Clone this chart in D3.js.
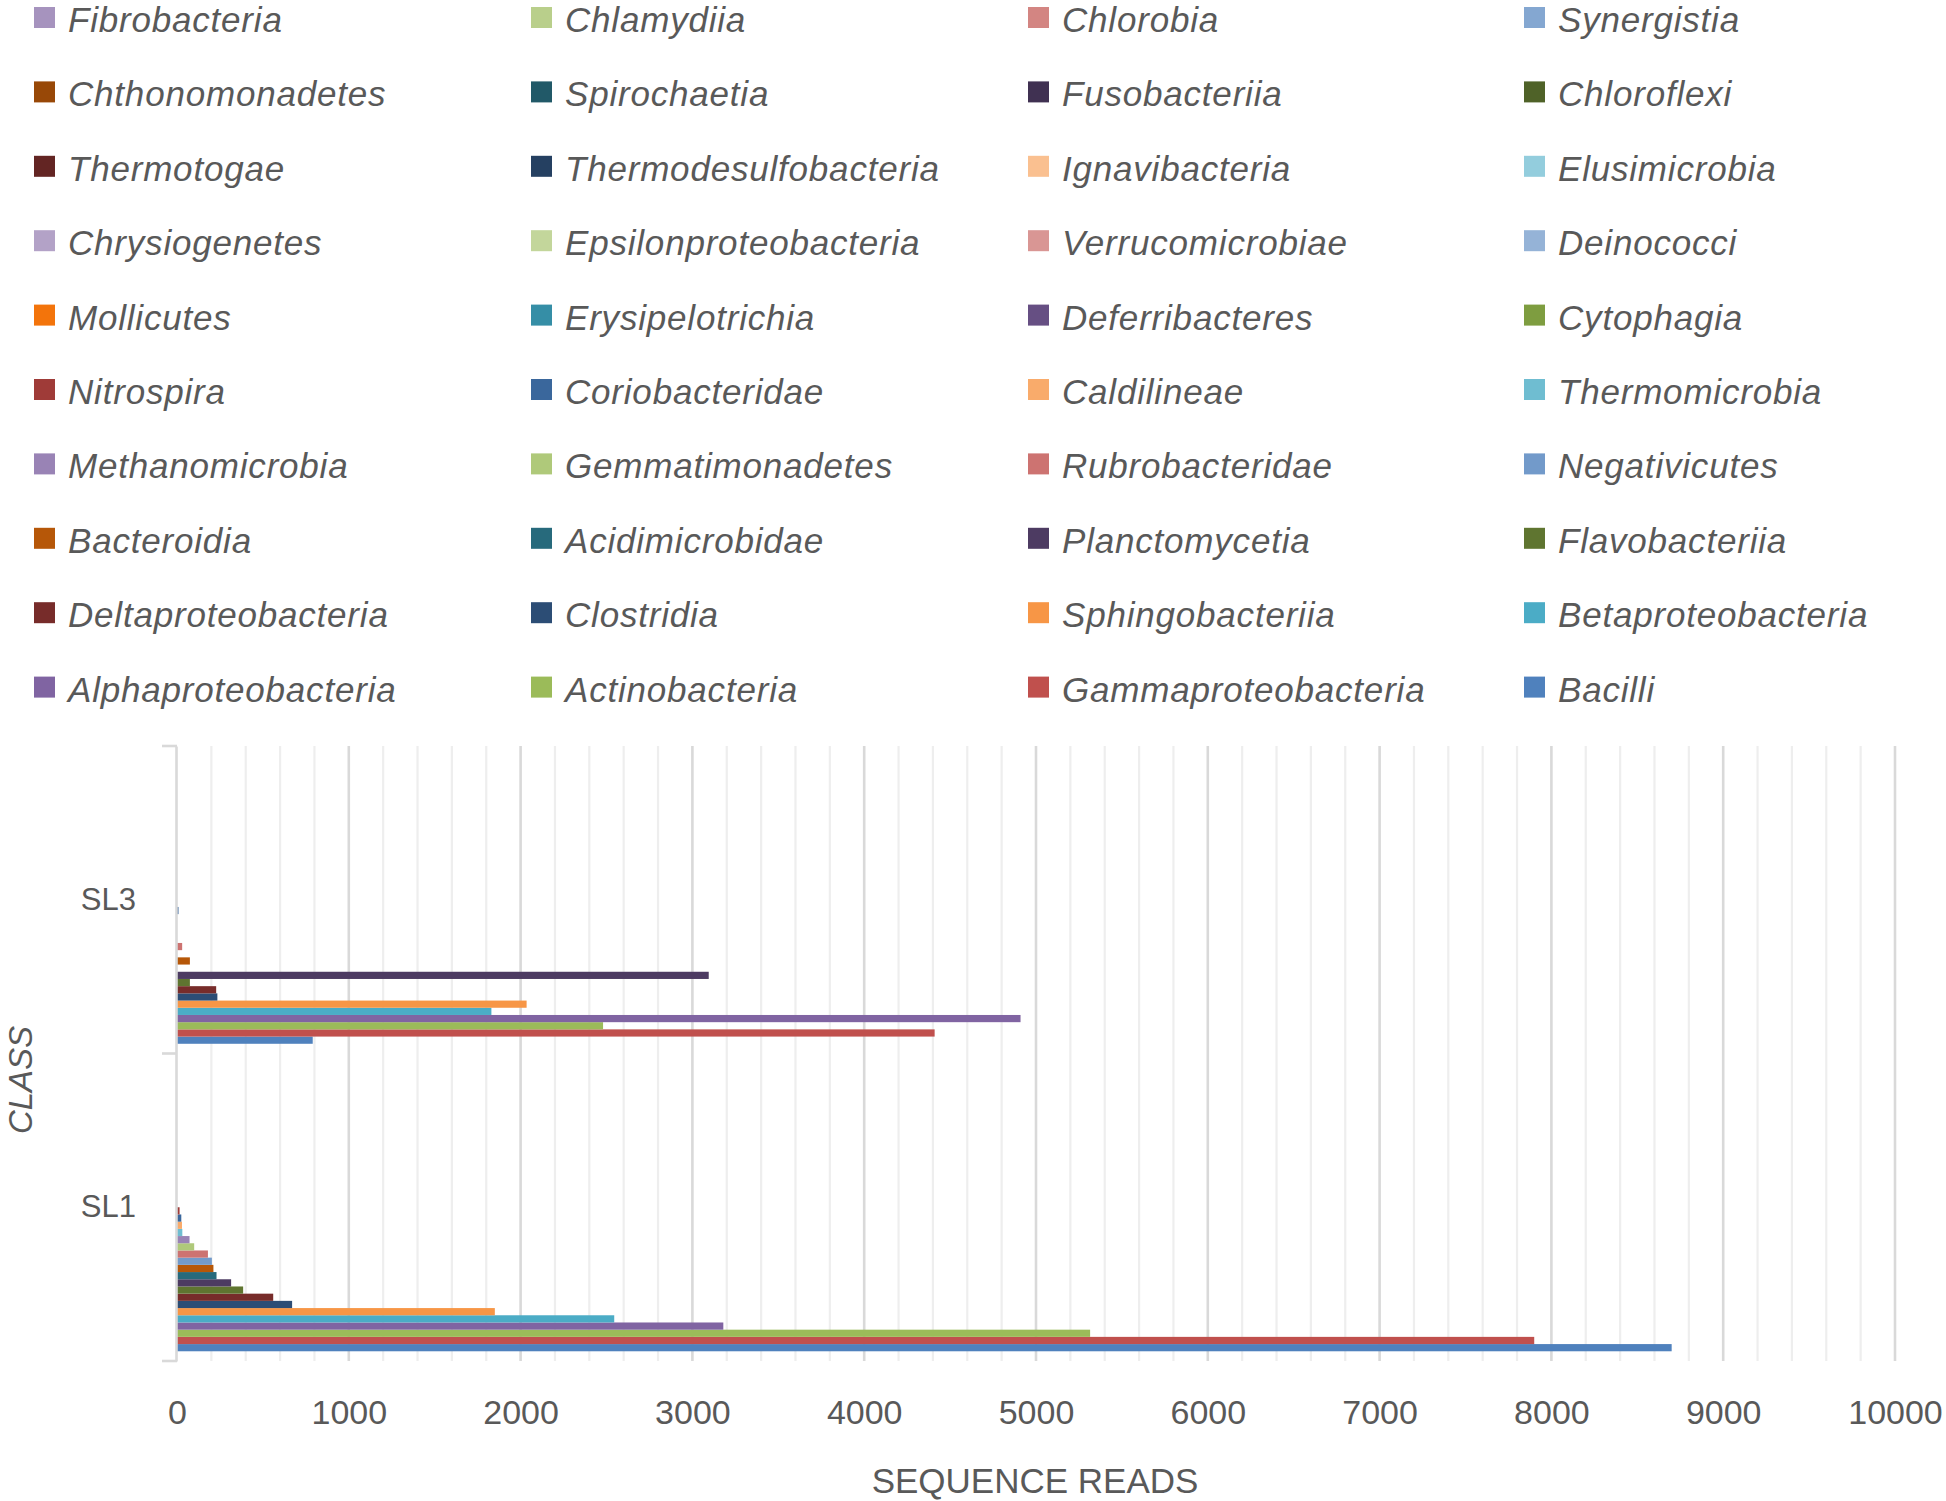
<!DOCTYPE html>
<html>
<head>
<meta charset="utf-8">
<script src="https://cdn.jsdelivr.net/npm/d3@7"></script>
<style>
  html, body { margin: 0; padding: 0; background: #ffffff; }
  svg { display: block; }
</style>
</head>
<body>
<svg id="chart" width="1946" height="1501"></svg>
<script>
// ---------------- DATA ----------------
const categories = ["SL3", "SL1"];

const seriesNames = [
  "Bacilli", "Gammaproteobacteria", "Actinobacteria", "Alphaproteobacteria",
  "Betaproteobacteria", "Sphingobacteriia", "Clostridia", "Deltaproteobacteria",
  "Flavobacteriia", "Planctomycetia", "Acidimicrobidae", "Bacteroidia",
  "Negativicutes", "Rubrobacteridae", "Gemmatimonadetes", "Methanomicrobia",
  "Thermomicrobia", "Caldilineae", "Coriobacteridae", "Nitrospira",
  "Cytophagia", "Deferribacteres", "Erysipelotrichia", "Mollicutes",
  "Deinococci", "Verrucomicrobiae", "Epsilonproteobacteria", "Chrysiogenetes",
  "Elusimicrobia", "Ignavibacteria", "Thermodesulfobacteria", "Thermotogae",
  "Chloroflexi", "Fusobacteriia", "Spirochaetia", "Chthonomonadetes",
  "Synergistia", "Chlorobia", "Chlamydiia", "Fibrobacteria"
];

const sl1Values = [
  8700, 7900, 5315, 3180, 2545, 1850, 670, 560, 385, 315,
  230, 212, 203, 180, 100, 73, 31, 29, 25, 15,
  0, 0, 0, 0, 0, 0, 0, 0, 0, 0,
  0, 0, 0, 0, 0, 0, 0, 0, 0, 0
];

const sl3Values = [
  790, 4410, 2480, 4910, 1830, 2035, 235, 228, 75, 3095,
  0, 75, 0, 30, 0, 0, 0, 0, 3, 0,
  0, 0, 0, 0, 0, 0, 0, 0, 0, 0,
  0, 0, 0, 0, 0, 0, 0, 0, 0, 0
];

const xTickValues = [0, 1000, 2000, 3000, 4000, 5000, 6000, 7000, 8000, 9000, 10000];

// ---------------- STYLE ----------------
const accents = ["#4F81BD", "#C0504D", "#9BBB59", "#8064A2", "#4BACC6", "#F79646"];
const lumSteps = [[1, 0], [0.6, 0], [0.8, 0.2], [0.8, 0], [0.6, 0.4], [0.5, 0], [0.7, 0.3]];
const palette = seriesNames.map((_, i) => {
  const base = d3.hsl(accents[i % 6]);
  const [m, o] = lumSteps[Math.floor(i / 6)];
  base.l = base.l * m + o;
  return base.formatHex();
});

const textColor = "#595959";
const svg = d3.select("#chart");

const valuesByCat = { "SL3": sl3Values, "SL1": sl1Values };

// ---------------- SCALES ----------------
const x = d3.scaleLinear().domain([0, 10000]).range([177, 1895]);
const yOuter = d3.scaleBand().domain(categories).range([746, 1361]).padding(0);
const yInner = d3.scaleBand()
  .domain(d3.range(seriesNames.length - 1, -1, -1))
  .range([0, yOuter.bandwidth()])
  .paddingInner(0)
  .paddingOuter(1.35);

// ---------------- GRID ----------------
const gridG = svg.append("g");
const minorTicks = d3.range(200, 10001, 200).filter(v => v % 1000 !== 0);
gridG.selectAll("line.minor").data(minorTicks).join("line")
  .attr("class", "minor")
  .attr("x1", d => x(d)).attr("x2", d => x(d))
  .attr("y1", 746).attr("y2", 1361)
  .attr("stroke", "#EEEEEE").attr("stroke-width", 2.2);
gridG.selectAll("line.major").data(xTickValues.filter(v => v > 0)).join("line")
  .attr("class", "major")
  .attr("x1", d => x(d)).attr("x2", d => x(d))
  .attr("y1", 746).attr("y2", 1361)
  .attr("stroke", "#D9D9D9").attr("stroke-width", 2.6);

// ---------------- BARS ----------------
const barData = [];
categories.forEach(c => {
  valuesByCat[c].forEach((v, i) => {
    if (v > 0) barData.push({ cat: c, idx: i, value: v });
  });
});
svg.append("g").selectAll("rect").data(barData).join("rect")
  .attr("x", x(0))
  .attr("y", d => yOuter(d.cat) + yInner(d.idx))
  .attr("width", d => Math.max(1.5, x(d.value) - x(0)))
  .attr("height", yInner.bandwidth())
  .attr("fill", d => palette[d.idx]);

// ---------------- Y AXIS ----------------
const yAxisG = svg.append("g").attr("transform", "translate(176,0)")
  .call(d3.axisLeft(yOuter).tickSize(0).tickPadding(40));
yAxisG.select(".domain").attr("stroke", "#D9D9D9").attr("stroke-width", 2.6);
yAxisG.selectAll(".tick text")
  .attr("fill", textColor)
  .style("font-family", "'Liberation Sans', Arial, sans-serif")
  .style("font-size", "31px");

const boundaries = [yOuter.range()[0]].concat(categories.map(c => yOuter(c) + yOuter.bandwidth()));
svg.append("g").selectAll("line").data(boundaries).join("line")
  .attr("x1", 162).attr("x2", 177)
  .attr("y1", d => d).attr("y2", d => d)
  .attr("stroke", "#D9D9D9").attr("stroke-width", 2.6);

// ---------------- X AXIS ----------------
const xAxisG = svg.append("g").attr("transform", "translate(0,1361)")
  .call(d3.axisBottom(x).tickValues(xTickValues).tickSize(0).tickFormat(d3.format("d")));
xAxisG.select(".domain").remove();
xAxisG.selectAll(".tick text")
  .attr("y", 63).attr("dy", 0)
  .attr("fill", textColor)
  .style("font-family", "'Liberation Sans', Arial, sans-serif")
  .style("font-size", "34px");

// ---------------- AXIS TITLES ----------------
svg.append("text")
  .attr("x", 1035).attr("y", 1493)
  .attr("text-anchor", "middle")
  .attr("fill", textColor)
  .style("font-family", "'Liberation Sans', Arial, sans-serif")
  .style("font-size", "35px")
  .text("SEQUENCE READS");

svg.append("text")
  .attr("transform", "translate(32,1080) rotate(-90)")
  .attr("text-anchor", "middle")
  .attr("fill", textColor)
  .style("font-family", "'Liberation Sans', Arial, sans-serif")
  .style("font-style", "italic")
  .style("font-size", "33px")
  .text("CLASS");

// ---------------- LEGEND ----------------
const legendOrder = d3.range(seriesNames.length - 1, -1, -1);
const colX = [34, 531, 1028, 1524];
const rowY0 = 17.5, rowStep = 74.4;
const legendG = svg.append("g");
const items = legendG.selectAll("g").data(legendOrder).join("g")
  .attr("transform", (d, p) => `translate(${colX[p % 4]},${rowY0 + Math.floor(p / 4) * rowStep})`);
items.append("rect")
  .attr("x", 0).attr("y", -10.5).attr("width", 21).attr("height", 21)
  .attr("fill", d => palette[d]);
items.append("text")
  .attr("x", 34).attr("y", 14.5)
  .attr("fill", textColor)
  .style("font-family", "'Liberation Sans', Arial, sans-serif")
  .style("font-style", "italic")
  .style("font-size", "35px")
  .style("letter-spacing", "0.8px")
  .text(d => seriesNames[d]);
</script>
</body>
</html>
